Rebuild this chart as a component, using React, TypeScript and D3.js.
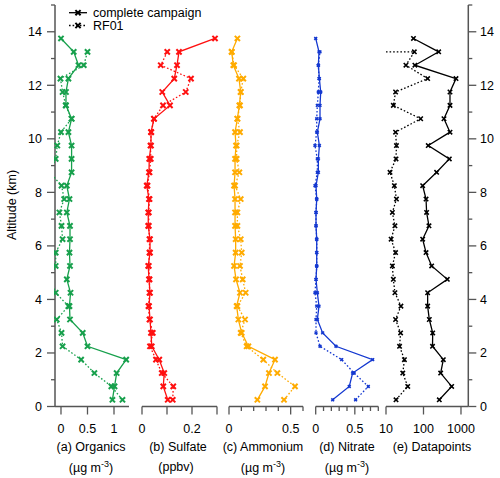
import React from "react";
import * as d3 from "d3";

// ---------- DATA ----------
const altitudes = [0.25, 0.75, 1.25, 1.75, 2.25, 2.75, 3.25, 3.75, 4.25, 4.75, 5.25, 5.75, 6.25, 6.75, 7.25, 7.75, 8.25, 8.75, 9.25, 9.75, 10.25, 10.75, 11.25, 11.75, 12.25, 12.75, 13.25, 13.75];

const organicsCampaign = [0.97, 1.01, 1.05, 1.23, 0.5, 0.41, 0.17, 0.16, 0.18, 0.11, 0.17, 0.16, 0.17, 0.17, 0.11, 0.16, 0.11, 0.2, 0.2, 0.2, 0.14, 0.2, 0.094, 0.094, 0.14, 0.33, 0.24, 0.0];
const organicsRF01 = [1.16, 0.95, 0.63, 0.38, 0.03, 0.01, -0.08, 0.14, -0.1, -0.2, -0.1, -0.1, 0.03, 0.01, -0.03, 0.06, 0.01, -0.21, -0.1, -0.07, 0.0, 0.2, 0.09, 0.03, -0.01, 0.43, 0.5, null];

const sulfateCampaign = [0.103, 0.085, 0.089, 0.069, 0.039, 0.036, 0.032, 0.028, 0.032, 0.028, 0.025, 0.032, 0.032, 0.025, 0.025, 0.028, 0.019, 0.028, 0.029, 0.036, 0.036, 0.048, 0.112, 0.081, 0.129, 0.14, 0.148, 0.292];
const sulfateRF01 = [0.123, 0.125, 0.079, 0.056, 0.032, 0.043, 0.03, 0.026, 0.03, 0.03, 0.027, 0.03, 0.03, 0.027, 0.027, 0.03, 0.022, 0.03, 0.035, 0.034, 0.037, 0.048, 0.084, 0.175, 0.196, 0.075, 0.101, null];

const ammoniumCampaign = [0.23, 0.292, 0.324, 0.373, 0.157, 0.103, 0.076, 0.062, 0.089, 0.057, 0.041, 0.054, 0.054, 0.049, 0.049, 0.049, 0.041, 0.049, 0.049, 0.057, 0.049, 0.068, 0.084, 0.095, 0.081, 0.035, 0.022, 0.068];
const ammoniumRF01 = [0.446, 0.535, 0.392, 0.278, 0.143, 0.095, 0.13, 0.068, 0.135, 0.111, 0.089, 0.103, 0.095, 0.068, 0.068, 0.095, 0.049, 0.084, 0.062, 0.062, 0.089, 0.068, 0.089, 0.095, 0.116, 0.041, 0.022, null];

const nitrateCampaign = [0.217, 0.429, 0.472, 0.728, 0.259, 0.089, 0.021, 0.042, 0.021, 0.004, 0.013, 0.013, 0.013, 0.004, 0.004, 0.013, 0.004, 0.034, 0.034, 0.047, 0.021, 0.055, 0.055, 0.064, 0.047, 0.034, 0.042, 0.0];
const nitrateRF01 = [0.51, 0.672, 0.49, 0.332, 0.055, 0.004, 0.004, 0.013, -0.009, 0.004, 0.013, 0.013, 0.013, 0.004, 0.004, 0.013, -0.009, 0.021, 0.021, -0.009, 0.013, 0.013, 0.021, 0.034, 0.042, 0.034, 0.055, null];

const datapointsCampaign = [264, 564, 287, 338, 174, 176, 143, 129, 129, 432, 165, 117, 95, 140, 121, 117, 95, 224, 489, 134, 509, 352, 509, 509, 736, 59, 254, 54];
const datapointsRF01 = [18.5, 38, 28, 31, 23, 24.5, 18, 25, 17.3, 15.7, 14.8, 18, 13.7, 17.3, 14.8, 19, 16.7, 12.8, 18.5, 19, 18, 84, 15.7, 18, 129, 34, 57, 0];

const panelTitles = ["(a) Organics", "(b) Sulfate", "(c) Ammonium", "(d) Nitrate", "(e) Datapoints"];
const panelUnits = ["µg", "ppbv", "µg", "µg", ""];
const panelColors = ["#17a04c", "#ff1010", "#ffab00", "#1438d0", "#000000"];

const organicsTicks = [0, 0.5, 1];
const sulfateTicks = [0, 0.1, 0.2, 0.3];
const sulfateLabels = [0, 0.2];
const ammoniumTicks = [0, 0.5];
const ammoniumMinor = [0.1, 0.2, 0.3, 0.4, 0.6];
const nitrateTicks = [0, 0.5];
const nitrateMinor = [0.1, 0.2, 0.3, 0.4, 0.6, 0.7, 0.8];
const datapointTicks = [10, 100, 1000];
const altitudeTicks = [0, 2, 4, 6, 8, 10, 12, 14];
const altitudeMinor = [1, 3, 5, 7, 9, 11, 13, 15];

const legendLabels = ["complete campaign", "RF01"];

// ---------- LAYOUT ----------
const W = 500;
const H = 478;
const FONT = "'Liberation Sans', Arial, Helvetica, sans-serif";
const AXIS = "#555";
const yBottom = 406.5;
const leftAxisX = 55;
const rightAxisX = 468.3;

const y = d3.scaleLinear().domain([0, 15]).range([406.5, 5]);

type Panel = {
  scale: any;
  campaign: (number | null)[];
  rf01: (number | null)[];
  major: number[];
  labels: number[];
  minor: number[];
  fmt: (v: number) => string;
  titleX: number;
  markerSize: number;
  markerWidth: number;
};

const fmtNum = (v: number) => (v === 0 ? "0" : String(v));

const panels: Panel[] = [
  {
    scale: d3.scaleLinear().domain([-0.113, 1.283]).range([55, 129]),
    campaign: organicsCampaign, rf01: organicsRF01,
    major: organicsTicks, labels: organicsTicks, minor: [], fmt: fmtNum, titleX: 91,
    markerSize: 2.6, markerWidth: 2,
  },
  {
    scale: d3.scaleLinear().domain([0, 0.3]).range([142, 217]),
    campaign: sulfateCampaign, rf01: sulfateRF01,
    major: sulfateTicks, labels: sulfateLabels, minor: [], fmt: fmtNum, titleX: 178,
    markerSize: 2.6, markerWidth: 2,
  },
  {
    scale: d3.scaleLinear().domain([0, 0.6]).range([229, 303]),
    campaign: ammoniumCampaign, rf01: ammoniumRF01,
    major: ammoniumTicks, labels: ammoniumTicks, minor: ammoniumMinor, fmt: fmtNum, titleX: 263,
    markerSize: 2.6, markerWidth: 2,
  },
  {
    scale: d3.scaleLinear().domain([0, 0.8]).range([315.7, 378.3]),
    campaign: nitrateCampaign, rf01: nitrateRF01,
    major: nitrateTicks, labels: nitrateTicks, minor: nitrateMinor, fmt: fmtNum, titleX: 347,
    markerSize: 1.4, markerWidth: 1.6,
  },
  {
    scale: d3.scaleLog().domain([10, 1567]).range([386, 468.3]),
    campaign: datapointsCampaign, rf01: datapointsRF01,
    major: datapointTicks, labels: datapointTicks, minor: [], fmt: (v) => String(v), titleX: 432,
    markerSize: 2.2, markerWidth: 1.6,
  },
];

function Marker({ x, yy, s, w, color }: { x: number; yy: number; s: number; w: number; color: string }) {
  return (
    <path
      d={`M${x - s},${yy - s}L${x + s},${yy + s}M${x - s},${yy + s}L${x + s},${yy - s}`}
      stroke={color}
      strokeWidth={w}
      fill="none"
    />
  );
}

function Series({ p, values, color, dashed, idx, pi }: { p: Panel; values: (number | null)[]; color: string; dashed: boolean; idx: string; pi: number }) {
  const isLog = pi === 4;
  const pts: [number, number][] = [];
  const markers: [number, number][] = [];
  values.forEach((v, i) => {
    if (v === null || v === undefined) return;
    if (isLog && v <= 0) {
      // zero datapoints: drawn flat to the axis start at neighbouring altitude
      const prevAlt = altitudes[i - 1];
      pts.push([p.scale.range()[0], y(prevAlt)]);
      return;
    }
    const px = p.scale(v);
    pts.push([px, y(altitudes[i])]);
    markers.push([px, y(altitudes[i])]);
  });
  const line = d3.line<[number, number]>().x((d) => d[0]).y((d) => d[1]);
  return (
    <g clipPath={`url(#clip${pi})`}>
      <path
        d={line(pts) || ""}
        fill="none"
        stroke={color}
        strokeWidth={1.3}
        strokeDasharray={dashed ? "1.6 2" : undefined}
      />
      {markers.map(([mx, my], k) => (
        <Marker key={idx + k} x={mx} yy={my} s={p.markerSize} w={p.markerWidth} color={color} />
      ))}
    </g>
  );
}

export default function App() {
  return (
    <svg width={W} height={H} style={{ display: "block", position: "absolute", left: 0, top: 0 }} fontFamily={FONT}>
      <rect width={W} height={H} fill="#fff" />
      <defs>
        {panels.map((p, i) => (
          <clipPath id={`clip${i}`} key={i}>
            <rect x={p.scale.range()[0] - (i === 0 ? 1 : 6)} y={0} width={p.scale.range()[1] - p.scale.range()[0] + (i === 0 ? 8 : 12)} height={H} />
          </clipPath>
        ))}
      </defs>

      {/* Left y axis */}
      <line x1={leftAxisX} x2={leftAxisX} y1={y(15)} y2={yBottom} stroke={AXIS} strokeWidth={1.5} />
      {altitudeTicks.map((t) => (
        <g key={"l" + t}>
          <line x1={leftAxisX - 8} x2={leftAxisX} y1={y(t)} y2={y(t)} stroke={AXIS} strokeWidth={1.3} />
          <text x={42} y={y(t) + 4.5} textAnchor="end" fontSize={12.5} fill="#000">{t}</text>
        </g>
      ))}
      {altitudeMinor.map((t) => (
        <line key={"lm" + t} x1={leftAxisX - 4} x2={leftAxisX} y1={y(t)} y2={y(t)} stroke={AXIS} strokeWidth={1.3} />
      ))}
      <text transform={`translate(16,${205}) rotate(-90)`} textAnchor="middle" fontSize={12.5} fill="#000">Altitude (km)</text>

      {/* Right y axis */}
      <line x1={rightAxisX} x2={rightAxisX} y1={y(15)} y2={yBottom} stroke={AXIS} strokeWidth={1.5} />
      {altitudeTicks.map((t) => (
        <g key={"r" + t}>
          <line x1={rightAxisX} x2={rightAxisX + 8} y1={y(t)} y2={y(t)} stroke={AXIS} strokeWidth={1.3} />
          <text x={480} y={y(t) + 4.5} textAnchor="start" fontSize={12.5} fill="#000">{t}</text>
        </g>
      ))}
      {altitudeMinor.map((t) => (
        <line key={"rm" + t} x1={rightAxisX} x2={rightAxisX + 4} y1={y(t)} y2={y(t)} stroke={AXIS} strokeWidth={1.3} />
      ))}

      {/* Panels */}
      {panels.map((p, i) => {
        const [r0, r1] = p.scale.range();
        return (
          <g key={"p" + i}>
            <line x1={r0} x2={r1} y1={yBottom} y2={yBottom} stroke={AXIS} strokeWidth={1.5} />
            {p.major.map((t) => (
              <line key={"M" + t} x1={p.scale(t)} x2={p.scale(t)} y1={yBottom} y2={yBottom + 8} stroke={AXIS} strokeWidth={1.3} />
            ))}
            {p.minor.map((t) => (
              <line key={"m" + t} x1={p.scale(t)} x2={p.scale(t)} y1={yBottom} y2={yBottom + 4.5} stroke={AXIS} strokeWidth={1.3} />
            ))}
            {p.labels.map((t) => (
              <text key={"t" + t} x={p.scale(t)} y={432.5} textAnchor="middle" fontSize={12.5} fill="#000">{p.fmt(t)}</text>
            ))}
            <text x={p.titleX} y={451} textAnchor="middle" fontSize={12.5} fill="#000">{panelTitles[i]}</text>
            {panelUnits[i] === "ppbv" && (
              <text x={p.titleX - 2} y={471} textAnchor="middle" fontSize={12.5} fill="#000">(ppbv)</text>
            )}
            {panelUnits[i] === "µg" && (
              <text x={p.titleX} y={472} textAnchor="middle" fontSize={12.5} fill="#000">
                (µg m<tspan dy={-5} fontSize={9}>-3</tspan><tspan dy={5}>)</tspan>
              </text>
            )}
            <Series p={p} values={p.rf01} color={panelColors[i]} dashed={true} idx={"d" + i} pi={i} />
            <Series p={p} values={p.campaign} color={panelColors[i]} dashed={false} idx={"s" + i} pi={i} />
          </g>
        );
      })}

      {/* Legend */}
      {legendLabels.map((lab, i) => {
        const ly = 12.7 + i * 12.8;
        return (
          <g key={"lg" + i}>
            <line x1={69} x2={87} y1={ly} y2={ly} stroke="#000" strokeWidth={1.3} strokeDasharray={i === 1 ? "1.6 2" : undefined} />
            <Marker x={78} yy={ly} s={2.6} w={2} color="#000" />
            <text x={93} y={ly + 4.5} fontSize={12.5} fill="#000">{lab}</text>
          </g>
        );
      })}
    </svg>
  );
}
